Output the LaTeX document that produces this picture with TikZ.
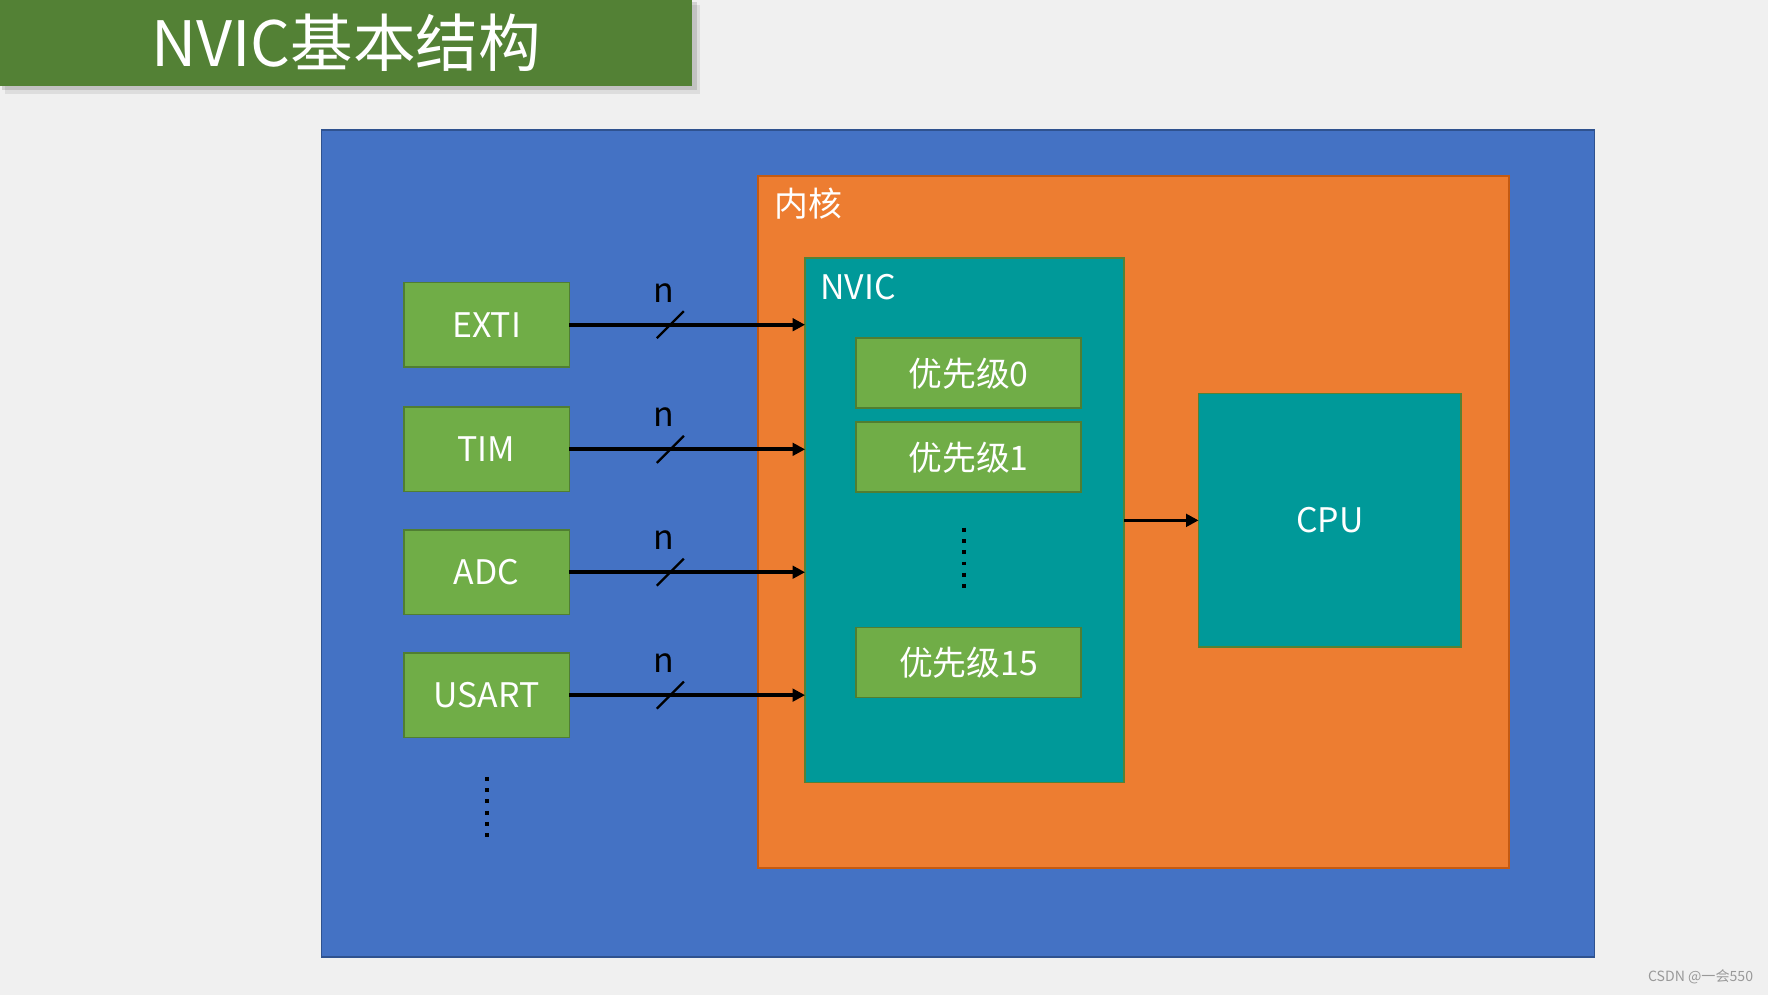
\documentclass[tikz,border=0pt]{standalone}
\usepackage{fontspec}
\setmainfont{Noto Sans CJK SC}
\usetikzlibrary{arrows.meta,calc}
\definecolor{bgc}{HTML}{F0F0F0}
\definecolor{titlegreen}{HTML}{538135}
\definecolor{socblue}{HTML}{4472C4}
\definecolor{socbluebd}{HTML}{2F528F}
\definecolor{coreorange}{HTML}{ED7D31}
\definecolor{coreorangebd}{HTML}{C55A11}
\definecolor{tealc}{HTML}{009999}
\definecolor{tealbd}{HTML}{548235}
\definecolor{boxgreen}{HTML}{70AD47}
\definecolor{boxgreenbd}{HTML}{507E32}
\tikzset{
  greenbox/.style={draw=boxgreenbd, fill=boxgreen, line width=1.5pt, minimum width=147pt, minimum height=75pt,
    inner sep=0pt, outer sep=0pt, text=white, font=\fontsize{30}{36}\selectfont},
  prio/.style={greenbox, minimum width=200pt, minimum height=62pt},
  tealbox/.style={draw=tealbd, fill=tealc, line width=1.5pt, inner sep=0pt, outer sep=0pt, anchor=north west,
    text=white, font=\fontsize{30}{36}\selectfont},
  arr/.style={line width=3.3pt, -{Triangle[length=11pt,width=11pt]}},
  slashline/.style={line width=2pt},
  nlabel/.style={font=\fontsize{30}{36}\selectfont, text=black, anchor=base, inner sep=0pt},
  dotcol/.style={line width=3.5pt, dash pattern=on 3.5pt off 6.5pt, black},
}
\begin{document}
\begin{tikzpicture}[x=1pt,y=-1pt]
\useasboundingbox (0,0) rectangle (1568,882);
\fill[bgc] (0,0) rectangle (1568,882);
% title with shadow
\fill[black, opacity=0.08] (4,4) rectangle (621,83);
\fill[black, opacity=0.12] (2,2) rectangle (618,80);
\node[fill=titlegreen, minimum width=614pt, minimum height=76pt, inner sep=0pt, outer sep=0pt, anchor=north west,
  text=white, font=\fontsize{55.5}{60}\selectfont] (title) at (0,0) {NVIC基本结构};
% outer blue region
\node[draw=socbluebd, fill=socblue, line width=1.5pt, minimum width=1129pt, minimum height=734pt,
  inner sep=0pt, outer sep=0pt, anchor=north west] (soc) at (285,115) {};
% core
\node[draw=coreorangebd, fill=coreorange, line width=1.5pt, minimum width=666pt, minimum height=614pt,
  inner sep=0pt, outer sep=0pt, anchor=north west] (core) at (672,156) {};
\node[anchor=west, text=white, font=\fontsize{30}{36}\selectfont, inner sep=0pt] (corelabel) at (687,181) {内核};
% NVIC
\node[tealbox, minimum width=283pt, minimum height=465pt] (nvic) at (714,229) {};
\node[anchor=base west, text=white, font=\fontsize{30}{36}\selectfont, inner sep=0pt] (nviclabel) at (727.5,266) {NVIC};
\node[prio] (p0) at (859,331) {优先级0};
\node[prio] (p1) at (859,405.5) {优先级1};
\node[prio] (p15) at (859,587.5) {优先级15};
\coordinate (nd1) at (855,468);
\coordinate (nd2) at (855,526);
\draw[dotcol] (nd1) -- (nd2);
% CPU
\node[tealbox, minimum width=233pt, minimum height=225pt] (cpu) at (1063,349) {};
\node[text=white, font=\fontsize{30}{36}\selectfont, inner sep=0pt] (cputext) at (cpu.center) {CPU};
\draw[arr] (nvic.east |- cpu.west) -- (cpu.west);
% peripherals
\node[greenbox] (exti) at (431.5,288) {EXTI};
\node[greenbox] (tim) at (431.5,398.5) {TIM};
\node[greenbox] (adc) at (431.5,507.5) {ADC};
\node[greenbox] (usart) at (431.5,616.5) {USART};
\coordinate (xs) at (594.5,0);
\foreach \p in {exti,tim,adc,usart}{
  \draw[arr] (\p.east) -- (\p.east -| nvic.west);
  \draw[slashline] ($(\p.east -| xs)+(-12,12)$) -- ($(\p.east -| xs)+(12,-12)$);
  \node[nlabel] at ($(\p.east -| xs)+(-5.5,-20)$) {n};
}
\coordinate (ld1) at (432,689);
\coordinate (ld2) at (432,747);
\draw[dotcol] (ld1) -- (ld2);
% watermark
\node[anchor=east, text=black!40, font=\fontsize{12.5}{14}\selectfont, inner sep=0pt] (wm) at (1555,866) {CSDN @一会550};
\end{tikzpicture}
\end{document}
